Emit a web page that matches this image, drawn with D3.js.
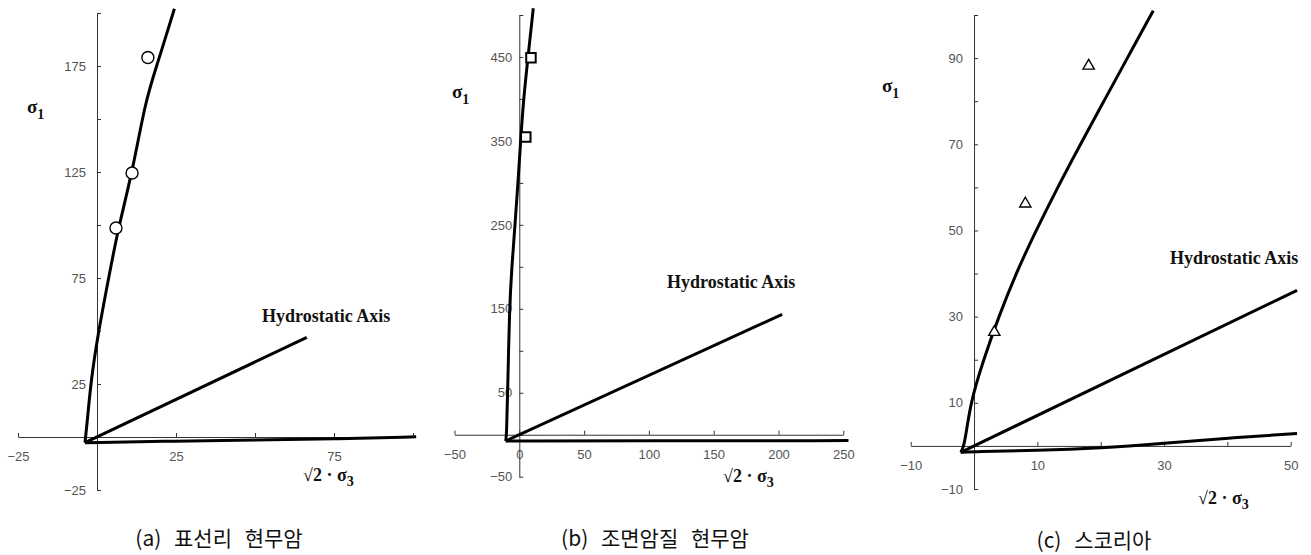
<!DOCTYPE html>
<html>
<head>
<meta charset="utf-8">
<script src="https://cdn.jsdelivr.net/npm/d3@7"></script>
<style>
  body { margin: 0; background: #fff; }
  .tick text { font-family: "Liberation Sans", Arial, sans-serif; font-size: 13px; fill: #555; }
  .axis path, .axis line { stroke: #333; stroke-width: 1; }
  .lbl { font-family: "Liberation Serif", "Times New Roman", serif; font-weight: bold; fill: #111; }
  .cap { font-family: "Noto Sans CJK KR", sans-serif; font-size: 21px; word-spacing: 8px; fill: #111; }
</style>
</head>
<body>
<svg id="chart" width="1311" height="555"></svg>
<script>
// captions
const captions = ['(a) 표선리 현무암', '(b) 조면암질 현무암', '(c) 스코리아'];

// (a) ticks + data, x = sqrt2*sigma3, y = sigma1
const xTicksA = [-25, 0, 25, 50, 75, 100];
const xLabelsA = [-25, 25, 75];
const yTicksA = [-25, 0, 25, 50, 75, 100, 125, 150, 175, 200];
const yLabelsA = [-25, 25, 75, 125, 175];
const upperA = [[-3.8, -2.7], [-2.9, 10], [-2.0, 25], [0.1, 47], [4.2, 79], [6.8, 99], [11.2, 125], [15.4, 159], [18.9, 175], [24.5, 202]];
const lowerA = [[-3.8, -2.7], [25, -1.9], [50, -1.4], [75, -0.9], [101, 0.1]];
const hydroA = [[-3.8, -2.7], [66.4, 47]];
const pointsA = [[16.1, 179], [11.1, 124.5], [6.0, 98.6]];

// (b)
const xTicksB = [-50, 0, 50, 100, 150, 200, 250];
const xLabelsB = [-50, 0, 50, 100, 150, 200, 250];
const yTicksB = [-50, 0, 50, 100, 150, 200, 250, 300, 350, 400, 450, 500];
const yLabelsB = [-50, 50, 150, 250, 350, 450];
const upperB = [[-10.5, -7.5], [-9.8, 0], [-9.0, 50], [-7.6, 150], [-5.8, 200], [-3.3, 250], [-1.0, 300], [1.0, 350], [3.3, 400], [6.7, 450], [10.8, 508]];
const lowerB = [[-10.5, -7.5], [100, -7.3], [254, -7.0]];
const hydroB = [[-10.5, -7.5], [202.8, 143.4]];
const pointsB = [[9, 449], [5, 354.6]];

// (c)
const xTicksC = [-10, 0, 10, 20, 30, 40, 50];
const xLabelsC = [-10, 10, 30, 50];
const yTicksC = [-10, 0, 10, 20, 30, 40, 50, 60, 70, 80, 90, 100];
const yLabelsC = [-10, 10, 30, 50, 70, 90];
const upperC = [[-2.1, -1.5], [-1.5, 0], [-0.6, 10], [1.5, 20], [3.9, 30], [6.6, 40], [9.8, 50], [13.2, 60], [16.8, 70], [20.5, 80], [24.2, 90], [28.3, 101]];
const lowerC = [[-2.1, -1.5], [0, -1.3], [10, -1.1], [20, -0.5], [30, 0.6], [40, 1.8], [51, 2.9]];
const hydroC = [[-2.1, -1.5], [51, 36.1]];
const pointsC = [[18.1, 88.2], [8.1, 56.2], [3.2, 26.4]];

const svg = d3.select('#chart');
const fmt = d3.format('');

const panels = [
  { xd: [-25, 100], xr: [18, 413], yd: [-25, 200], yr: [490, 13],
    xt: xTicksA, xl: xLabelsA, yt: yTicksA, yl: yLabelsA, ypad: 11,
    upper: upperA, lower: lowerA, hydro: hydroA, pts: pointsA, sym: d3.symbolCircle, symSize: 113,
    s1: [27, 113], s3: [303, 481], hy: [262, 322], cap: [219, 546] },
  { xd: [-50, 250], xr: [454.5, 843.3], yd: [-50, 500], yr: [476.7, 15],
    xt: xTicksB, xl: xLabelsB, yt: yTicksB, yl: yLabelsB, ypad: 7,
    upper: upperB, lower: lowerB, hydro: hydroB, pts: pointsB, sym: d3.symbolSquare, symSize: 90,
    s1: [452, 98], s3: [723, 482], hy: [667, 288], cap: [655, 546] },
  { xd: [-10, 50], xr: [910.7, 1290.7], yd: [-10, 100], yr: [489, 15],
    xt: xTicksC, xl: xLabelsC, yt: yTicksC, yl: yLabelsC, ypad: 11,
    upper: upperC, lower: lowerC, hydro: hydroC, pts: pointsC, sym: d3.symbolTriangle, symSize: 55,
    s1: [882, 92], s3: [1198, 504], hy: [1170, 264], cap: [1094, 548] }
];

panels.forEach((p, i) => {
  const x = d3.scaleLinear().domain(p.xd).range(p.xr);
  const y = d3.scaleLinear().domain(p.yd).range(p.yr);
  const g = svg.append('g');

  // axes crossing at origin, ticks pointing inward
  g.append('g')
    .attr('class', 'axis')
    .attr('transform', `translate(0, ${y(0)})`)
    .call(d3.axisBottom(x).tickValues(p.xt).tickSizeInner(-4).tickSizeOuter(0).tickPadding(15)
      .tickFormat(d => p.xl.includes(d) ? fmt(d) : ''));
  g.append('g')
    .attr('class', 'axis')
    .attr('transform', `translate(${x(0)}, 0)`)
    .call(d3.axisLeft(y).tickValues(p.yt).tickSizeInner(-4).tickSizeOuter(0).tickPadding(p.ypad)
      .tickFormat(d => p.yl.includes(d) ? fmt(d) : ''));

  const line = d3.line().x(d => x(d[0])).y(d => y(d[1]));
  const smooth = d3.line().x(d => x(d[0])).y(d => y(d[1])).curve(d3.curveBasis);

  [p.upper, p.lower].forEach(arr => {
    g.append('path').attr('d', smooth(arr))
      .attr('fill', 'none').attr('stroke', '#000').attr('stroke-width', 3)
      .attr('stroke-linejoin', 'round');
  });
  g.append('path').attr('d', line(p.hydro))
    .attr('fill', 'none').attr('stroke', '#000').attr('stroke-width', 3);

  g.selectAll('.pt').data(p.pts).enter().append('path')
    .attr('class', 'pt')
    .attr('transform', d => `translate(${x(d[0])}, ${y(d[1])})`)
    .attr('d', d3.symbol().type(p.sym).size(p.symSize))
    .attr('fill', '#fff').attr('stroke', '#000')
    .attr('stroke-width', i === 1 ? 2 : 1.4);

  // axis titles
  const t1 = g.append('text').attr('class', 'lbl').attr('x', p.s1[0]).attr('y', p.s1[1]).style('font-size', '19px');
  t1.append('tspan').text('σ');
  t1.append('tspan').attr('dy', 6).style('font-size', '14px').text('1');

  const t3 = g.append('text').attr('class', 'lbl').attr('x', p.s3[0]).attr('y', p.s3[1]).style('font-size', '18px');
  t3.append('tspan').text('√2 · σ');
  t3.append('tspan').attr('dy', 5).style('font-size', '14px').text('3');

  g.append('text').attr('class', 'lbl').attr('x', p.hy[0]).attr('y', p.hy[1])
    .style('font-size', '18px').text('Hydrostatic Axis');

  g.append('text').attr('class', 'cap').attr('x', p.cap[0]).attr('y', p.cap[1])
    .attr('text-anchor', 'middle').text(captions[i]);
});
</script>
</body>
</html>
